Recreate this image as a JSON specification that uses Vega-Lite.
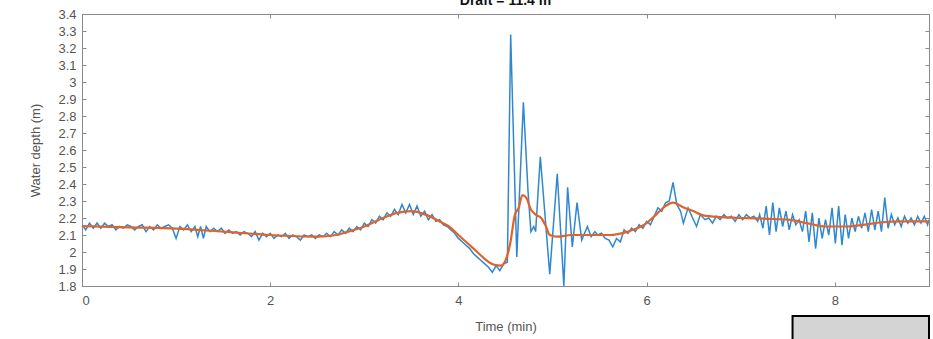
{
  "$schema": "https://vega.github.io/schema/vega-lite/v6.json",
  "width": 847,
  "height": 272,
  "autosize": {"type": "none"},
  "padding": {"left": 82, "top": 14, "right": 4, "bottom": 53},
  "background": "white",
  "title": {"text": "Draft = 11.4 m", "fontSize": 14, "fontWeight": "bold", "font": "Liberation Sans", "color": "#111", "offset": 0, "frame": "group", "baseline": "alphabetic", "dy": 11},
  "config": {
    "view": {"stroke": "#8a8a8a", "strokeWidth": 1},
    "axis": {"labelFont": "Liberation Sans", "titleFont": "Liberation Sans", "labelColor": "#555", "titleColor": "#555", "labelFontSize": 13, "titleFontSize": 13, "titleFontWeight": "normal", "domainColor": "#8a8a8a", "tickColor": "#8a8a8a", "grid": false}
  },
  "datasets": {
    "blue": [
      {"t":0.00,"d":2.16},{"t":0.04,"d":2.13},{"t":0.08,"d":2.17},{"t":0.12,"d":2.14},{"t":0.16,"d":2.17},{"t":0.20,"d":2.14},{"t":0.24,"d":2.17},{"t":0.28,"d":2.15},{"t":0.32,"d":2.16},{"t":0.36,"d":2.13},{"t":0.40,"d":2.15},{"t":0.44,"d":2.14},{"t":0.48,"d":2.16},{"t":0.52,"d":2.15},{"t":0.56,"d":2.13},{"t":0.60,"d":2.15},{"t":0.64,"d":2.16},{"t":0.68,"d":2.12},{"t":0.72,"d":2.15},{"t":0.76,"d":2.13},{"t":0.80,"d":2.16},{"t":0.84,"d":2.14},{"t":0.88,"d":2.15},{"t":0.92,"d":2.16},{"t":0.96,"d":2.14},{"t":1.00,"d":2.08},{"t":1.04,"d":2.15},{"t":1.08,"d":2.13},{"t":1.12,"d":2.16},{"t":1.16,"d":2.12},{"t":1.20,"d":2.15},{"t":1.23,"d":2.09},{"t":1.26,"d":2.15},{"t":1.29,"d":2.08},{"t":1.32,"d":2.15},{"t":1.36,"d":2.12},{"t":1.40,"d":2.14},{"t":1.44,"d":2.12},{"t":1.48,"d":2.14},
      {"t":1.52,"d":2.11},{"t":1.56,"d":2.13},{"t":1.60,"d":2.11},{"t":1.64,"d":2.12},{"t":1.68,"d":2.10},{"t":1.72,"d":2.12},{"t":1.76,"d":2.11},{"t":1.80,"d":2.09},{"t":1.84,"d":2.12},{"t":1.88,"d":2.07},{"t":1.92,"d":2.11},{"t":1.96,"d":2.09},{"t":2.00,"d":2.11},{"t":2.04,"d":2.08},{"t":2.08,"d":2.10},{"t":2.12,"d":2.09},{"t":2.16,"d":2.11},{"t":2.20,"d":2.08},{"t":2.24,"d":2.10},{"t":2.28,"d":2.09},{"t":2.32,"d":2.07},{"t":2.36,"d":2.10},{"t":2.40,"d":2.09},{"t":2.44,"d":2.10},{"t":2.48,"d":2.08},{"t":2.52,"d":2.10},{"t":2.56,"d":2.09},{"t":2.60,"d":2.11},{"t":2.64,"d":2.09},{"t":2.68,"d":2.12},{"t":2.72,"d":2.10},{"t":2.76,"d":2.13},{"t":2.80,"d":2.11},
      {"t":2.84,"d":2.14},{"t":2.88,"d":2.12},{"t":2.92,"d":2.15},{"t":2.96,"d":2.13},{"t":3.00,"d":2.17},{"t":3.04,"d":2.15},{"t":3.08,"d":2.19},{"t":3.12,"d":2.17},{"t":3.16,"d":2.21},{"t":3.20,"d":2.19},{"t":3.24,"d":2.23},{"t":3.28,"d":2.21},{"t":3.32,"d":2.25},{"t":3.36,"d":2.22},{"t":3.40,"d":2.28},{"t":3.44,"d":2.23},{"t":3.48,"d":2.28},{"t":3.52,"d":2.22},{"t":3.56,"d":2.27},{"t":3.60,"d":2.21},{"t":3.64,"d":2.24},{"t":3.68,"d":2.19},{"t":3.72,"d":2.22},{"t":3.76,"d":2.18},{"t":3.80,"d":2.19},{"t":3.84,"d":2.16},{"t":3.88,"d":2.15},
      {"t":3.92,"d":2.13},{"t":3.96,"d":2.11},{"t":4.00,"d":2.08},{"t":4.04,"d":2.06},{"t":4.08,"d":2.04},{"t":4.12,"d":2.02},{"t":4.16,"d":1.99},{"t":4.20,"d":1.97},{"t":4.24,"d":1.95},{"t":4.28,"d":1.93},{"t":4.32,"d":1.91},{"t":4.36,"d":1.88},{"t":4.40,"d":1.92},{"t":4.44,"d":1.89},{"t":4.48,"d":1.93},{"t":4.52,"d":1.94},
      {"t":4.555,"d":3.28},{"t":4.62,"d":1.97},{"t":4.69,"d":2.88},{"t":4.74,"d":2.35},{"t":4.77,"d":2.12},{"t":4.80,"d":2.15},{"t":4.82,"d":2.12},{"t":4.87,"d":2.56},{"t":4.97,"d":1.87},{"t":5.05,"d":2.46},{"t":5.12,"d":1.80},{"t":5.16,"d":2.38},{"t":5.21,"d":2.03},{"t":5.26,"d":2.29},{"t":5.31,"d":2.07},{"t":5.37,"d":2.15},{"t":5.41,"d":2.09},{"t":5.45,"d":2.12},
      {"t":5.48,"d":2.10},{"t":5.52,"d":2.11},{"t":5.56,"d":2.08},{"t":5.60,"d":2.07},{"t":5.64,"d":2.03},{"t":5.68,"d":2.08},{"t":5.72,"d":2.06},{"t":5.76,"d":2.13},{"t":5.80,"d":2.11},{"t":5.84,"d":2.14},{"t":5.88,"d":2.12},{"t":5.92,"d":2.16},{"t":5.96,"d":2.14},{"t":6.00,"d":2.18},{"t":6.04,"d":2.16},{"t":6.08,"d":2.21},{"t":6.12,"d":2.26},{"t":6.16,"d":2.24},{"t":6.20,"d":2.29},{"t":6.24,"d":2.30},{"t":6.28,"d":2.41},{"t":6.32,"d":2.28},{"t":6.36,"d":2.24},{"t":6.39,"d":2.17},{"t":6.44,"d":2.26},{"t":6.48,"d":2.21},{"t":6.53,"d":2.15},{"t":6.57,"d":2.22},{"t":6.62,"d":2.19},
      {"t":6.66,"d":2.20},{"t":6.70,"d":2.17},{"t":6.74,"d":2.21},{"t":6.78,"d":2.19},{"t":6.82,"d":2.22},{"t":6.86,"d":2.20},{"t":6.90,"d":2.21},{"t":6.94,"d":2.18},{"t":6.98,"d":2.22},{"t":7.02,"d":2.19},{"t":7.06,"d":2.22},{"t":7.10,"d":2.20},{"t":7.14,"d":2.21},{"t":7.18,"d":2.18},
      {"t":7.20,"d":2.22},{"t":7.235,"d":2.14},{"t":7.27,"d":2.27},{"t":7.305,"d":2.10},{"t":7.34,"d":2.29},{"t":7.375,"d":2.12},{"t":7.41,"d":2.26},{"t":7.445,"d":2.15},{"t":7.48,"d":2.24},{"t":7.515,"d":2.13},{"t":7.55,"d":2.22},{"t":7.585,"d":2.16},{"t":7.62,"d":2.19},{"t":7.655,"d":2.12},{"t":7.69,"d":2.24},{"t":7.725,"d":2.06},{"t":7.76,"d":2.23},{"t":7.795,"d":2.02},{"t":7.83,"d":2.20},{"t":7.865,"d":2.08},{"t":7.90,"d":2.19},{"t":7.935,"d":2.10},{"t":7.97,"d":2.26},{"t":8.005,"d":2.05},{"t":8.04,"d":2.27},{"t":8.075,"d":2.04},{"t":8.11,"d":2.22},{"t":8.145,"d":2.08},{"t":8.18,"d":2.20},{"t":8.215,"d":2.12},{"t":8.25,"d":2.21},{"t":8.285,"d":2.14},{"t":8.32,"d":2.23},{"t":8.355,"d":2.12},{"t":8.39,"d":2.25},{"t":8.425,"d":2.13},{"t":8.46,"d":2.24},{"t":8.495,"d":2.12},{"t":8.53,"d":2.32},{"t":8.565,"d":2.14},{"t":8.60,"d":2.22},{"t":8.635,"d":2.16},{"t":8.67,"d":2.20},{"t":8.705,"d":2.15},{"t":8.74,"d":2.21},{"t":8.775,"d":2.17},{"t":8.81,"d":2.20},{"t":8.845,"d":2.16},{"t":8.88,"d":2.21},{"t":8.915,"d":2.17},{"t":8.95,"d":2.21},{"t":8.985,"d":2.16},{"t":9.0,"d":2.19}
    ],
    "orange": [
      {"t":0.0,"d":2.152},{"t":0.5,"d":2.145},{"t":1.0,"d":2.138},{"t":1.5,"d":2.12},{"t":2.0,"d":2.10},{"t":2.5,"d":2.09},{"t":2.7,"d":2.10},{"t":2.8,"d":2.115},{"t":3.0,"d":2.15},{"t":3.2,"d":2.20},{"t":3.35,"d":2.23},{"t":3.5,"d":2.24},{"t":3.65,"d":2.22},{"t":3.8,"d":2.18},{"t":3.9,"d":2.15},{"t":4.0,"d":2.10},{"t":4.1,"d":2.05},{"t":4.2,"d":2.00},{"t":4.3,"d":1.95},{"t":4.38,"d":1.925},{"t":4.45,"d":1.92},{"t":4.5,"d":1.95},{"t":4.55,"d":2.05},{"t":4.6,"d":2.22},{"t":4.64,"d":2.26},{"t":4.68,"d":2.335},{"t":4.72,"d":2.32},{"t":4.77,"d":2.25},{"t":4.82,"d":2.22},{"t":4.88,"d":2.20},{"t":4.93,"d":2.15},{"t":4.97,"d":2.10},{"t":5.05,"d":2.09},{"t":5.2,"d":2.10},{"t":5.4,"d":2.10},{"t":5.6,"d":2.10},{"t":5.8,"d":2.12},{"t":6.0,"d":2.17},{"t":6.1,"d":2.22},{"t":6.2,"d":2.27},{"t":6.28,"d":2.29},{"t":6.4,"d":2.26},{"t":6.5,"d":2.24},{"t":6.6,"d":2.215},{"t":6.8,"d":2.205},{"t":7.0,"d":2.20},{"t":7.3,"d":2.195},{"t":7.5,"d":2.19},{"t":7.7,"d":2.17},{"t":7.9,"d":2.15},{"t":8.1,"d":2.15},{"t":8.3,"d":2.16},{"t":8.5,"d":2.175},{"t":8.7,"d":2.18},{"t":9.0,"d":2.18}
    ],
    "box": [{"t1":7.55,"t2":9.0,"d1":1.624,"d2":1.45}]
  },
  "layer": [
    {
      "data": {"name": "blue"},
      "mark": {"type": "line", "color": "#2f88cf", "strokeWidth": 1.5, "clip": true},
      "encoding": {
        "x": {"field": "t", "type": "quantitative", "scale": {"domain": [0, 9], "nice": false, "zero": false},
              "axis": {"title": "Time (min)", "values": [0, 2, 4, 6, 8], "tickSize": -4, "labelPadding": 12, "titlePadding": 13}},
        "y": {"field": "d", "type": "quantitative", "scale": {"domain": [1.8, 3.4], "nice": false, "zero": false},
              "axis": {"title": "Water depth (m)", "values": [1.8,1.9,2.0,2.1,2.2,2.3,2.4,2.5,2.6,2.7,2.8,2.9,3.0,3.1,3.2,3.3,3.4], "format": ".1~f", "tickSize": -4, "labelPadding": 10, "titlePadding": 15}}
      }
    },
    {
      "data": {"name": "orange"},
      "mark": {"type": "line", "color": "#e0632a", "strokeWidth": 2.2, "interpolate": "monotone", "clip": true},
      "encoding": {
        "x": {"field": "t", "type": "quantitative", "axis": {"orient": "top", "values": [0, 2, 4, 6, 8], "labels": false, "title": null, "tickSize": -4}},
        "y": {"field": "d", "type": "quantitative", "axis": {"orient": "right", "values": [1.8,1.9,2.0,2.1,2.2,2.3,2.4,2.5,2.6,2.7,2.8,2.9,3.0,3.1,3.2,3.3,3.4], "labels": false, "title": null, "tickSize": -4}}
      }
    },
    {
      "data": {"name": "box"},
      "mark": {"type": "rect", "fill": "#d4d4d4", "stroke": "#000", "strokeWidth": 2, "clip": false},
      "encoding": {
        "x": {"field": "t1", "type": "quantitative", "axis": null},
        "x2": {"field": "t2"},
        "y": {"field": "d1", "type": "quantitative", "axis": null},
        "y2": {"field": "d2"}
      }
    }
  ],
  "resolve": {"axis": {"x": "independent", "y": "independent"}}
}
